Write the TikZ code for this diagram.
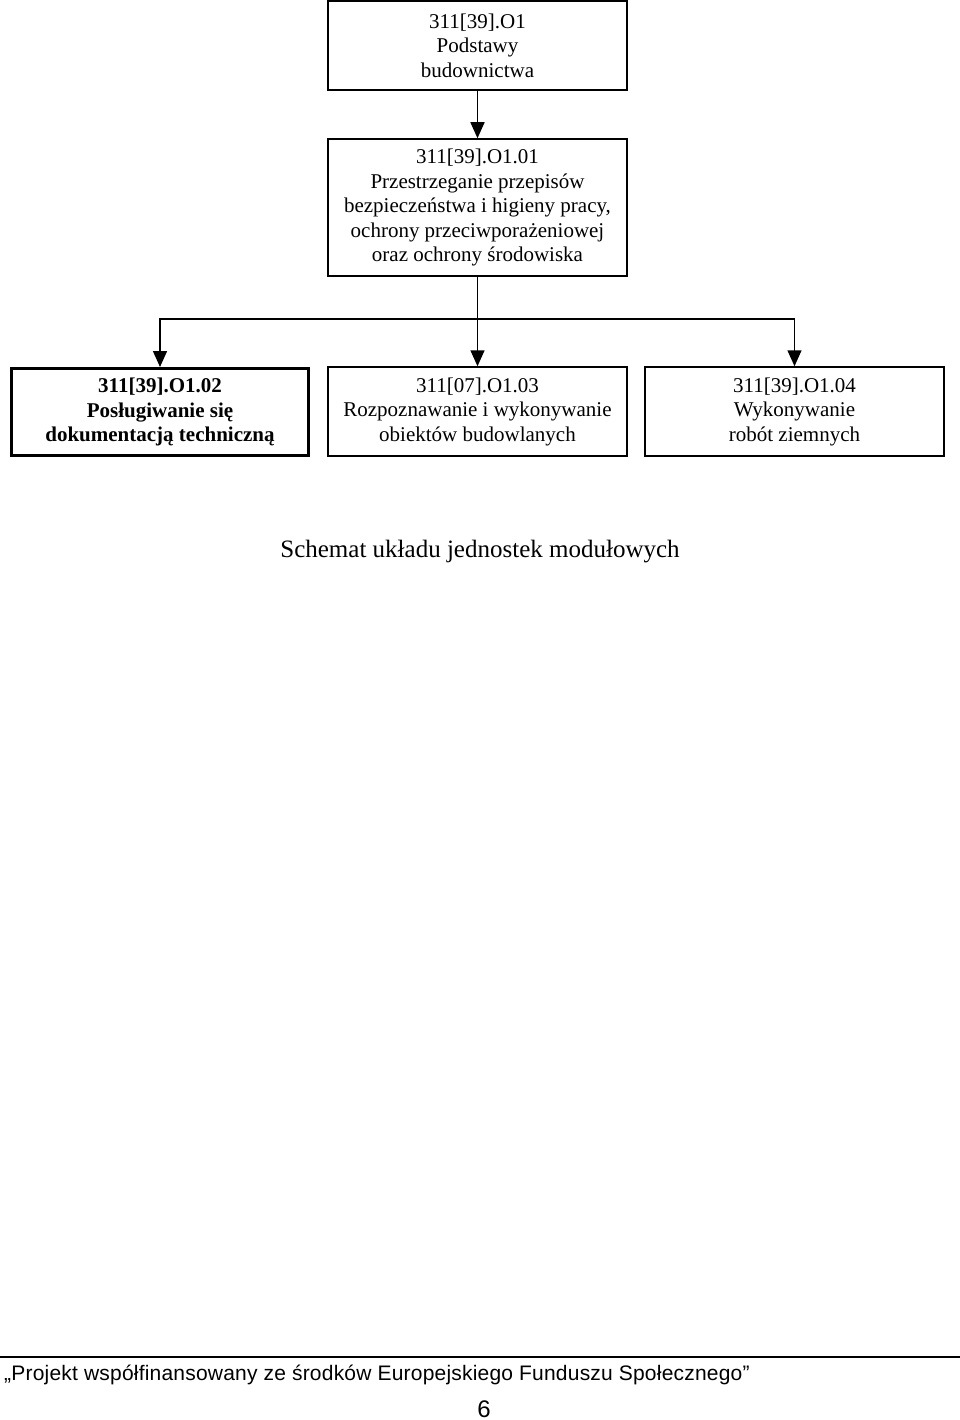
\documentclass[tikz,border=0pt]{standalone}
\usepackage{fontspec}
\setmainfont{Liberation Serif}
\setsansfont{Liberation Sans}
\usetikzlibrary{arrows.meta}
\begin{document}
\begin{tikzpicture}[x=1pt,y=-1pt,
  box/.style={draw=black,line width=1.5pt,minimum width=299pt,align=center,inner sep=0pt,
    font=\fontsize{21pt}{24.5pt}\selectfont},
  thickbox/.style={box,line width=3pt},
  conn/.style={line width=1.5pt,-{Triangle[width=14pt,length=16pt]}},
  plain/.style={line width=1.5pt}]
\useasboundingbox (0,0) rectangle (960,1420);
\node[box,minimum height=89pt] (top) at (477.5,45.5) {311[39].O1\\Podstawy\\budownictwa};
\node[box,minimum height=137pt] (m1) at (477.5,207.5) {311[39].O1.01\\Przestrzeganie przepisów\\bezpieczeństwa i higieny pracy,\\ochrony przeciwporażeniowej\\oraz ochrony środowiska};
\node[thickbox,minimum width=297pt,minimum height=87pt] (m2) at (160,412) {\bfseries 311[39].O1.02\\\bfseries Posługiwanie się\\\bfseries dokumentacją techniczną};
\node[box,minimum height=89pt] (m3) at (477.5,411.5) {311[07].O1.03\\Rozpoznawanie i wykonywanie\\obiektów budowlanych};
\node[box,minimum height=89pt] (m4) at (794.5,411.5) {311[39].O1.04\\Wykonywanie\\robót ziemnych};
\coordinate (j) at (477.5,319);
\draw[conn] (top) -- (m1);
\draw[plain] (m1.south) -- (j);
\draw[conn] (j) -- (m3);
\draw[conn] (j) -| (m2.north);
\draw[conn] (j) -| (m4.north);
\node[font=\fontsize{25pt}{30pt}\selectfont] (cap) at (480,552) {Schemat układu jednostek modułowych};
\coordinate (fl) at (0,1357);
\coordinate (fr) at (960,1357);
\draw[line width=1.5pt] (fl) -- (fr);
\node[anchor=base west,inner sep=0pt,font=\sffamily\fontsize{21pt}{25pt}\selectfont\addfontfeatures{LetterSpace=1.0}] (foot) at (4,1380) {„Projekt współfinansowany ze środków Europejskiego Funduszu Społecznego”};
\node[anchor=base,inner sep=0pt,font=\sffamily\fontsize{24pt}{28pt}\selectfont] (page) at (484,1417) {6};
\end{tikzpicture}
\end{document}
